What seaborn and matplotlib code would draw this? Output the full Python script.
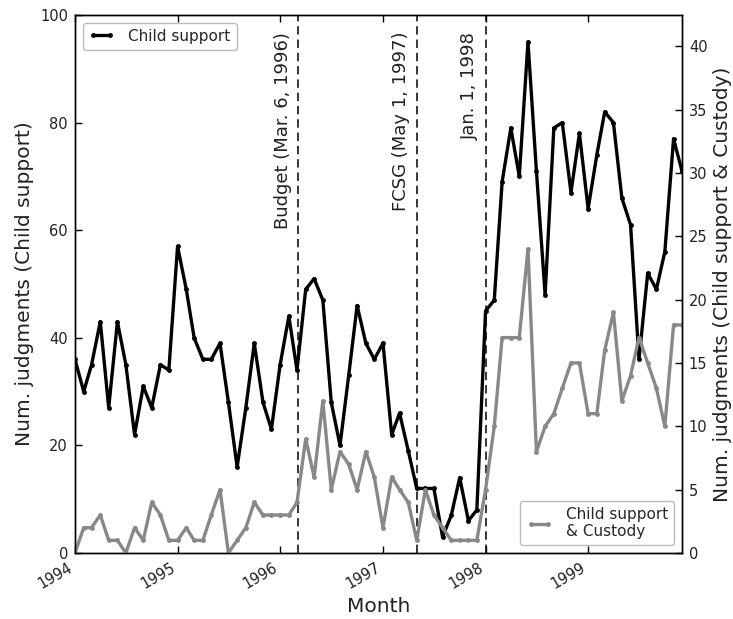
import matplotlib
matplotlib.use("Agg")
import matplotlib.pyplot as plt
import matplotlib.dates as mdates
import numpy as np
import pandas as pd
import seaborn as sns

# Monthly counts, Jan 1994 .. Dec 1999
months = pd.date_range("1994-01-01", periods=72, freq="MS")

child_support = [
    36, 30, 35, 43, 27, 43, 35, 22, 31, 27, 35, 34,   # 1994
    57, 49, 40, 36, 36, 39, 28, 16, 27, 39, 28, 23,   # 1995
    35, 44, 34, 49, 51, 47, 28, 20, 33, 46, 39, 36,   # 1996
    39, 22, 26, 19, 12, 12, 12, 3, 7, 14, 6, 8,       # 1997
    45, 47, 69, 79, 70, 95, 71, 48, 79, 80, 67, 78,   # 1998
    64, 74, 82, 80, 66, 61, 36, 52, 49, 56, 77, 71,   # 1999
]

support_custody = [
    0, 2, 2, 3, 1, 1, 0, 2, 1, 4, 3, 1,               # 1994
    1, 2, 1, 1, 3, 5, 0, 1, 2, 4, 3, 3,               # 1995
    3, 3, 4, 9, 6, 12, 5, 8, 7, 5, 8, 6,              # 1996
    2, 6, 5, 4, 1, 5, 3, 2, 1, 1, 1, 1,               # 1997
    5, 10, 17, 17, 17, 24, 8, 10, 11, 13, 15, 15,     # 1998
    11, 11, 16, 19, 12, 14, 17, 15, 13, 10, 18, 18,   # 1999
]

event_dates = ["1996-03-06", "1997-05-01", "1998-01-01"]
event_labels = ["Budget (Mar. 6, 1996)", "FCSG (May 1, 1997)", "Jan. 1, 1998"]

left_ticks = [0, 20, 40, 60, 80, 100]
right_ticks = [0, 5, 10, 15, 20, 25, 30, 35, 40]

df = pd.DataFrame({
    "month": months,
    "child_support": child_support,
    "support_custody": support_custody,
})

sns.set_style("ticks", {"xtick.direction": "in", "ytick.direction": "in",
                        "axes.edgecolor": "black"})
plt.rcParams["font.family"] = ["DejaVu Sans"]

fig = plt.figure(figsize=(7.33, 6.19), dpi=100)
ax = fig.add_subplot(111)
fig.subplots_adjust(left=0.1023, right=0.9304, bottom=0.1066, top=0.9758)

line_kw = dict(linewidth=2.4, marker="o", markersize=3.5, markeredgewidth=0)

sns.lineplot(data=df, x="month", y="child_support", ax=ax, color="black",
             label="Child support", legend=False, **line_kw)

for d, lab in zip(event_dates, event_labels):
    dt = pd.Timestamp(d)
    ax.axvline(dt, color="black", linestyle=(0, (5.5, 3.2)), linewidth=1.1,
               zorder=1)
    ax.annotate(lab, xy=(dt, 1.0), xycoords=("data", "axes fraction"),
                xytext=(-4.5, -12), textcoords="offset points",
                rotation=90, ha="right", va="top", fontsize=13,
                color="#222222")

ax2 = ax.twinx()
sns.lineplot(data=df, x="month", y="support_custody", ax=ax2, color="#888888",
             label="Child support\n& Custody", legend=False, **line_kw)

ax.set_xlim(months[0], months[-1])
ax.set_ylim(0, 100)
ax.set_yticks(left_ticks)
ax2.set_ylim(0, 100 * 40 / 94.2)
ax2.set_yticks(right_ticks)

ax.xaxis.set_major_locator(mdates.YearLocator())
ax.xaxis.set_major_formatter(mdates.DateFormatter("%Y"))
for t in ax.get_xticklabels():
    t.set_rotation(30)
    t.set_ha("right")

ax.tick_params(axis="both", direction="in", top=True, right=False,
               labelsize=10.5, length=5, width=1, pad=5, color="black",
               labelcolor="#222222")
ax2.tick_params(axis="y", direction="in", labelsize=10.5, length=5, width=1,
                pad=5, color="black", labelcolor="#222222")

ax.set_xlabel("Month", fontsize=14.5, color="#222222")
ax.set_ylabel("Num. judgments (Child support)", fontsize=14.5, color="#222222")
ax2.set_ylabel("Num. judgments (Child support & Custody)", fontsize=14.5,
               color="#222222")

for a in (ax, ax2):
    for s in a.spines.values():
        s.set_visible(True)
        s.set_color("black")
        s.set_linewidth(1.0)

leg_kw = dict(fontsize=11, numpoints=2, handlelength=1.7, handletextpad=0.9,
              frameon=True, fancybox=True, framealpha=1.0, edgecolor="#bbbbbb")
h1, l1 = ax.get_legend_handles_labels()
ax.legend(h1, l1, loc="upper left", **leg_kw)
h2, l2 = ax2.get_legend_handles_labels()
ax2.legend(h2, l2, loc="lower right", **leg_kw)

fig.savefig("out.png", dpi=100)
